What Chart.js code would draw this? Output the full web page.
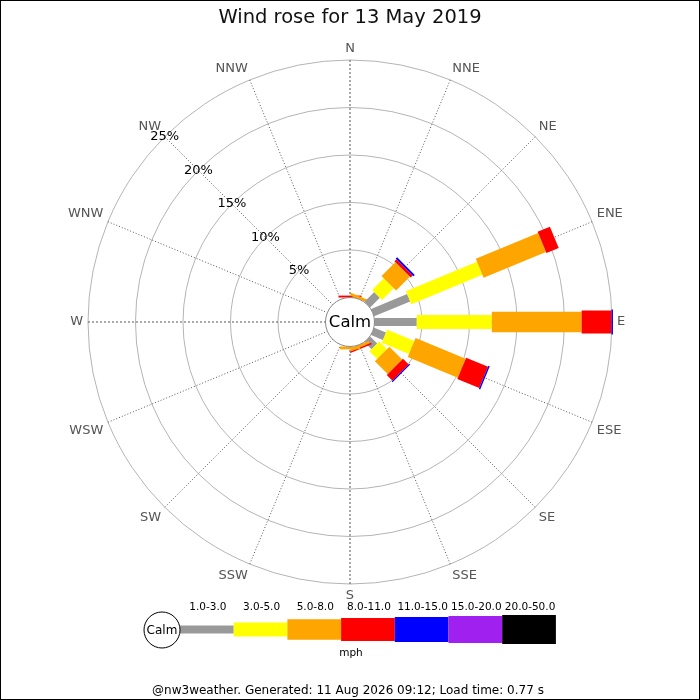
<!DOCTYPE html>
<html>
<head>
<meta charset="utf-8">
<script src="https://cdn.jsdelivr.net/npm/chart.js@4.4.1/dist/chart.umd.min.js"></script>
<style>
html,body{margin:0;padding:0;background:#fff;}
canvas{display:block;}
</style>
</head>
<body>
<canvas id="rose" width="700" height="700"></canvas>
<script>
// ---- data ----
const directions = ['N','NNE','NE','ENE','E','ESE','SE','SSE','S','SSW','SW','WSW','W','WNW','NW','NNW'];
const speedBands = ['1.0-3.0','3.0-5.0','5.0-8.0','8.0-11.0','11.0-15.0','15.0-20.0','20.0-50.0'];
const band1to3   = [0,    0,    1.45, 4.10, 4.45, 1.35, 1.05, 0,    0,    0, 0, 0, 0, 0, 0, 0];
const band3to5   = [0,    0,    1.75, 8.10, 7.90, 3.10, 1.15, 0,    0,    0, 0, 0, 0, 0, 0, 0];
const band5to8   = [0,    0.30, 2.05, 7.10, 9.45, 5.70, 1.90, 0.30, 0.30, 0, 0, 0, 0, 0, 0, 0];
const band8to11  = [0.20, 0,    0.30, 1.40, 3.15, 2.50, 0.85, 0.15, 0,    0, 0, 0, 0, 0, 0, 0];
const band11to15 = [0,    0,    0.20, 0,    0.15, 0.15, 0.12, 0,    0,    0, 0, 0, 0, 0, 0, 0];
const band15to20 = [0, 0, 0, 0, 0, 0, 0, 0, 0, 0, 0, 0, 0, 0, 0, 0];
const band20to50 = [0, 0, 0, 0, 0, 0, 0, 0, 0, 0, 0, 0, 0, 0, 0, 0];
const percentTicks = [5, 10, 15, 20, 25];
const tickLabels = ['5%', '10%', '15%', '20%', '25%'];
const titleText = 'Wind rose for 13 May 2019';
const unitText = 'mph';
const footerText = '@nw3weather. Generated: 11 Aug 2026 09:12; Load time: 0.77 s';

// ---- style ----
const bandColors = ['#999999', '#ffff00', '#ffa500', '#ff0000', '#0000ff', '#a020f0', '#000000'];
const bandWidths = [8, 14, 20.5, 23, 25, 27, 29];
const calmOffset = 2.579;   // radius of the calm circle, in % units
const FONT = "'DejaVu Sans', sans-serif";

const bandData = [band1to3, band3to5, band5to8, band8to11, band11to15, band15to20, band20to50];

const roseBars = {
  id: 'roseBars',
  afterDatasetsDraw(chart) {
    const s = chart.scales.r;
    const ctx = chart.ctx;
    ctx.save();
    directions.forEach((d, i) => {
      const ang = s.getIndexAngle(i) - Math.PI / 2;
      let cum = 0;
      chart.data.datasets.forEach((ds, b) => {
        const v = ds.data[i];
        if (!v) return;
        const r0 = s.getDistanceFromCenterForValue(cum);
        cum += v;
        const r1 = s.getDistanceFromCenterForValue(cum);
        const w = bandWidths[b];
        ctx.save();
        ctx.translate(s.xCenter, s.yCenter);
        ctx.rotate(ang);
        ctx.fillStyle = bandColors[b];
        ctx.fillRect(r0, -w / 2, r1 - r0, w);
        ctx.restore();
      });
    });
    // calm circle
    const rc = s.getDistanceFromCenterForValue(0);
    ctx.beginPath();
    ctx.arc(s.xCenter, s.yCenter, rc, 0, Math.PI * 2);
    ctx.fillStyle = '#ffffff';
    ctx.fill();
    ctx.lineWidth = 1;
    ctx.strokeStyle = '#888888';
    ctx.stroke();
    ctx.fillStyle = '#000000';
    ctx.font = '16.5px ' + FONT;
    ctx.textAlign = 'center';
    ctx.textBaseline = 'middle';
    ctx.fillText('Calm', s.xCenter, s.yCenter + 0.5);
    // percentage labels along NW
    ctx.font = '13px ' + FONT;
    const nwIndex = directions.indexOf('NW');
    percentTicks.forEach((v, k) => {
      const p = s.getPointPositionForValue(nwIndex, v);
      ctx.fillText(tickLabels[k], p.x, p.y);
    });
    ctx.restore();
  },
  afterDraw(chart) {
    const ctx = chart.ctx;
    ctx.save();
    // legend
    const cy = 629.5;
    const x0 = 180, segW = 53.7;
    speedBands.forEach((lab, b) => {
      const x = x0 + b * segW;
      ctx.fillStyle = bandColors[b];
      ctx.fillRect(x, cy - bandWidths[b] / 2, segW, bandWidths[b]);
      ctx.fillStyle = '#000';
      ctx.font = '10.5px ' + FONT;
      ctx.textAlign = 'center';
      ctx.textBaseline = 'middle';
      ctx.fillText(lab, x + segW / 2 + 1, 607.5);
    });
    ctx.beginPath();
    ctx.arc(162, 630, 18, 0, Math.PI * 2);
    ctx.fillStyle = '#fff';
    ctx.fill();
    ctx.strokeStyle = '#000';
    ctx.lineWidth = 1;
    ctx.stroke();
    ctx.fillStyle = '#000';
    ctx.font = '12px ' + FONT;
    ctx.textAlign = 'center';
    ctx.textBaseline = 'middle';
    ctx.fillText('Calm', 162, 630.5);
    ctx.font = '10.5px ' + FONT;
    ctx.fillText(unitText, 351, 653);
    ctx.font = '12px ' + FONT;
    ctx.fillText(footerText, 348, 691);
    // frame
    ctx.strokeStyle = '#000';
    ctx.lineWidth = 1;
    ctx.strokeRect(0.5, 0.5, 699, 699);
    ctx.restore();
  }
};

new Chart(document.getElementById('rose'), {
  type: 'radar',
  data: {
    labels: directions,
    datasets: speedBands.map((lab, b) => ({
      label: lab,
      data: bandData[b],
      backgroundColor: bandColors[b],
      borderColor: 'rgba(0,0,0,0)',
      borderWidth: 0,
      pointRadius: 0,
      pointHoverRadius: 0,
      fill: false
    }))
  },
  options: {
    responsive: false,
    devicePixelRatio: 1,
    animation: false,
    events: [],
    layout: { padding: { top: 0, bottom: 97, left: 0, right: 0 } },
    plugins: {
      legend: { display: false },
      tooltip: { enabled: false },
      title: {
        display: true,
        text: titleText,
        color: '#111',
        font: { family: FONT, size: 19.5, weight: 'normal', lineHeight: 1.2 },
        padding: { top: 6, bottom: 12.6 }
      }
    },
    scales: {
      r: {
        min: -calmOffset,
        max: 25,
        afterBuildTicks(axis) {
          axis.ticks = percentTicks.map(v => ({ value: v }));
        },
        ticks: { display: false },
        grid: { circular: true, color: '#b4b4b4', lineWidth: 1 },
        angleLines: {
          display: true,
          color: '#555555',
          lineWidth: 1,
          borderDash: (ctx) => (ctx.index % 4 === 0 ? [2, 2] : [1, 2])
        },
        pointLabels: {
          display: true,
          color: '#555555',
          padding: 5,
          font: { family: FONT, size: 13, lineHeight: 1 }
        }
      }
    }
  },
  plugins: [roseBars]
});
</script>
</body>
</html>
